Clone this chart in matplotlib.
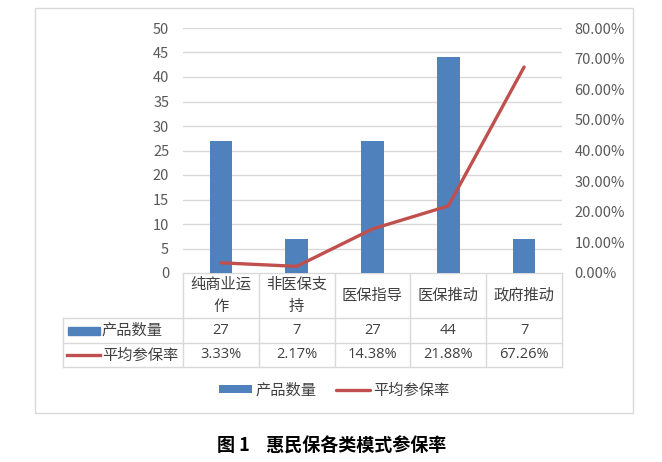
import numpy as np
import matplotlib
matplotlib.use("Agg")
import matplotlib.pyplot as plt
import matplotlib.transforms as mtransforms
from matplotlib.patches import Rectangle
from matplotlib.ticker import PercentFormatter

plt.rcParams["font.family"] = ["Noto Sans CJK SC", "DejaVu Sans"]

# ── Data ──────────────────────────────────────────────────────────────────────
categories  = ["纯商业运\n作", "非医保支\n持", "医保指导", "医保推动", "政府推动"]
counts      = [27, 7, 27, 44, 7]
rates       = [0.0333, 0.0217, 0.1438, 0.2188, 0.6726]
count_label = "产品数量"
rate_label  = "平均参保率"
caption     = "图 1    惠民保各类模式参保率"

BAR_C   = "#4F81BD"
LINE_C  = "#C0504D"
GRID_C  = "#D9D9D9"
TICK_C  = "#595959"
TEXT_C  = "#404040"

W, H = 662, 462
fig = plt.figure(figsize=(W / 100, H / 100), dpi=100)

# overlay in pixel coords for frame / table lines
ov = fig.add_axes([0, 0, 1, 1], zorder=-1)
ov.set_xlim(0, W)
ov.set_ylim(H, 0)
ov.axis("off")

# ── Main chart ────────────────────────────────────────────────────────────────
L, R, T, B = 183, 562, 28, 273
ax = fig.add_axes([L / W, 1 - B / H, (R - L) / W, (B - T) / H])
x = np.arange(len(categories))
bars = ax.bar(x, counts, width=0.3, color=BAR_C, zorder=3)
ax.set_xlim(-0.5, len(categories) - 0.5)
ax.set_ylim(0, 50)
ax.set_yticks(range(0, 51, 5))
ax.set_xticks([])
ax.grid(axis="y", color=GRID_C, lw=1, zorder=0)
for s in ax.spines.values():
    s.set_visible(False)
ax.tick_params(axis="y", length=0, pad=10, labelsize=10.5, labelcolor=TICK_C)

ax2 = ax.twinx()
line, = ax2.plot(x, rates, color=LINE_C, lw=2.4, zorder=4, solid_capstyle="round")
ax2.set_ylim(0, 0.8)
ax2.set_yticks(np.arange(0, 0.81, 0.1))
ax2.yaxis.set_major_formatter(PercentFormatter(1.0, decimals=2))
for s in ax2.spines.values():
    s.set_visible(False)
ax2.tick_params(axis="y", length=0, pad=9, labelsize=10.5, labelcolor=TICK_C)

# ── Outer frame ───────────────────────────────────────────────────────────────
ov.add_patch(Rectangle((35, 8), 598, 405, fill=False, ec=GRID_C, lw=1))

# ── Data table ────────────────────────────────────────────────────────────────
row1, row2, row3 = 318, 343, 367
tbl_left = 63
col_edges = np.linspace(L, R, len(categories) + 1)
for y in (B, row1, row2, row3):
    ov.plot([tbl_left if y != B else L, R], [y, y], color=GRID_C, lw=1)
for xe in col_edges:
    ov.plot([xe, xe], [B, row3], color=GRID_C, lw=1)
ov.plot([tbl_left, tbl_left], [row1, row3], color=GRID_C, lw=1)

bt = mtransforms.blended_transform_factory(ax.transData, ov.transData)
for i, cat in enumerate(categories):
    ax.text(i, (B + row1) / 2, cat, transform=bt, ha="center", va="center",
            fontsize=11, color=TEXT_C, linespacing=1.35, clip_on=False)
    ax.text(i, (row1 + row2) / 2, str(counts[i]), transform=bt, ha="center",
            va="center", fontsize=10.5, color=TEXT_C, family="Open Sans", clip_on=False)
    ax.text(i, (row2 + row3) / 2, f"{rates[i] * 100:.2f}%", transform=bt,
            ha="center", va="center", fontsize=10.5, color=TEXT_C,
            family="Open Sans", clip_on=False)

# legend keys inside the table
ov.add_patch(Rectangle((68, (row1 + row2) / 2 - 4), 32, 8, color=BAR_C))
ov.plot([67, 100], [(row2 + row3) / 2] * 2, color=LINE_C, lw=2.4)
ov.text(102, (row1 + row2) / 2, count_label, ha="left", va="center",
        fontsize=11, color=TEXT_C)
ov.text(102, (row2 + row3) / 2, rate_label, ha="left", va="center",
        fontsize=11, color=TEXT_C)

# ── Bottom legend ─────────────────────────────────────────────────────────────
fig.legend([bars, line], [count_label, rate_label], loc="center",
           bbox_to_anchor=(334 / W, 1 - 390 / H), ncol=2, frameon=False,
           fontsize=11, handlelength=2.2, handleheight=0.5, handletextpad=0.2,
           columnspacing=1.3, labelcolor=TEXT_C)

# ── Caption ───────────────────────────────────────────────────────────────────
ov.text(332, 446, caption, ha="center", va="center", fontsize=13,
        fontweight="bold", color="black")

fig.savefig("out.png", dpi=100)
